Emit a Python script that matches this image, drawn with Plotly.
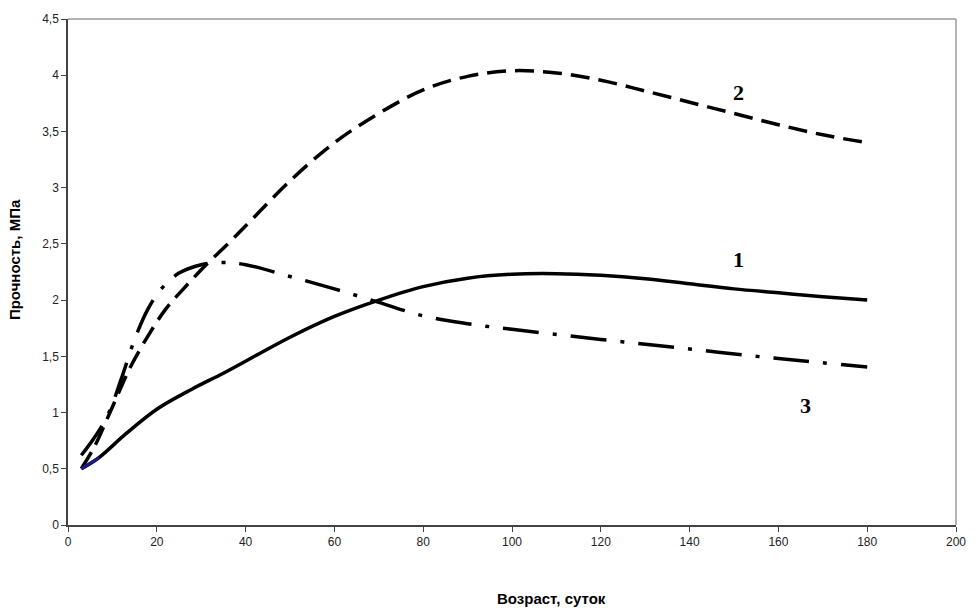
import plotly.graph_objects as go

# Curve 1 (solid)
x1 = [3, 7, 13, 20, 28, 35, 42, 50, 60, 70, 80, 90, 100, 110, 120, 130, 140, 150, 160, 170, 180]
y1 = [0.5, 0.6, 0.81, 1.03, 1.21, 1.35, 1.5, 1.67, 1.855, 2.0, 2.12, 2.195, 2.23, 2.235, 2.22, 2.19, 2.145, 2.1, 2.065, 2.03, 2.0]

# Curve 2 (dashed)
x2 = [3, 6, 10, 14, 18, 22, 26, 31, 36, 41, 50, 60, 70, 80, 90, 100, 110, 120, 130, 140, 150, 160, 170, 180]
y2 = [0.5, 0.7, 1.05, 1.4, 1.68, 1.92, 2.1, 2.31, 2.5, 2.7, 3.06, 3.4, 3.66, 3.87, 3.99, 4.04, 4.02, 3.955, 3.86, 3.76, 3.66, 3.56, 3.47, 3.4]

# Curve 3 (dash-dot)
x3 = [3, 6, 9, 12, 15, 18, 21, 25, 30, 35, 40, 50, 60, 70, 80, 90, 100, 120, 140, 160, 180]
y3 = [0.62, 0.78, 0.98, 1.3, 1.65, 1.92, 2.1, 2.24, 2.315, 2.335, 2.315, 2.21, 2.1, 1.98, 1.86, 1.79, 1.74, 1.65, 1.565, 1.48, 1.406]

labels = ["1", "2", "3"]
label_x = [150.9, 150.9, 166.2]
label_y = [2.36, 3.85, 1.06]

x_ticks = list(range(0, 201, 20))
y_ticks = [0, 0.5, 1, 1.5, 2, 2.5, 3, 3.5, 4, 4.5]

fig = go.Figure()
fig.add_trace(go.Scatter(x=x3, y=y3, mode="lines", line=dict(color="black", width=3.5, shape="spline", smoothing=1, dash="36px,14px,4px,14px")))
fig.add_trace(go.Scatter(x=x2, y=y2, mode="lines", line=dict(color="black", width=3.5, shape="spline", smoothing=1, dash="19px,9px")))
fig.add_trace(go.Scatter(x=x1, y=y1, mode="lines", line=dict(color="black", width=3.5, shape="spline", smoothing=1)))
fig.add_trace(go.Scatter(x=x1[:2], y=y1[:2], mode="lines", line=dict(color="#1a1a8c", width=3)))

for t, lx, ly in zip(labels, label_x, label_y):
    fig.add_annotation(x=lx, y=ly, text="<b>%s</b>" % t, showarrow=False,
                       font=dict(family="Liberation Serif", size=22, color="black"))

fig.add_annotation(xref="paper", yref="paper", x=0.545, y=-0.145, yanchor="middle",
                   text="<b>Возраст, суток</b>", showarrow=False,
                   font=dict(family="Liberation Sans", size=15, color="black"))
fig.add_annotation(xref="paper", yref="paper", x=-0.06, xanchor="center", y=0.525,
                   text="<b>Прочность, МПа</b>", textangle=-90, showarrow=False,
                   font=dict(family="Liberation Sans", size=15, color="black"))

# top and right border (gray)
fig.add_shape(type="line", xref="paper", yref="paper", x0=0, x1=1, y0=1, y1=1, line=dict(color="#999999", width=1.5))
fig.add_shape(type="line", xref="paper", yref="paper", x0=1, x1=1, y0=0, y1=1, line=dict(color="#999999", width=1.5))

fig.update_layout(
    width=978, height=616,
    margin=dict(l=68, r=15, t=16, b=91),
    paper_bgcolor="white", plot_bgcolor="white",
    showlegend=False,
    separators=", ",
    font=dict(family="Liberation Sans", size=12, color="#222"),
    xaxis=dict(range=[0, 200], tickvals=x_ticks, showgrid=False, zeroline=False,
               showline=True, linecolor="#444", linewidth=1.5,
               ticks="outside", ticklen=5, tickcolor="#444"),
    yaxis=dict(range=[0, 4.5], tickvals=y_ticks, tickformat=".1~f", showgrid=False, zeroline=False,
               showline=True, linecolor="#444", linewidth=1.5,
               ticks="outside", ticklen=5, tickcolor="#444"),
)

fig.write_html("out.html")
